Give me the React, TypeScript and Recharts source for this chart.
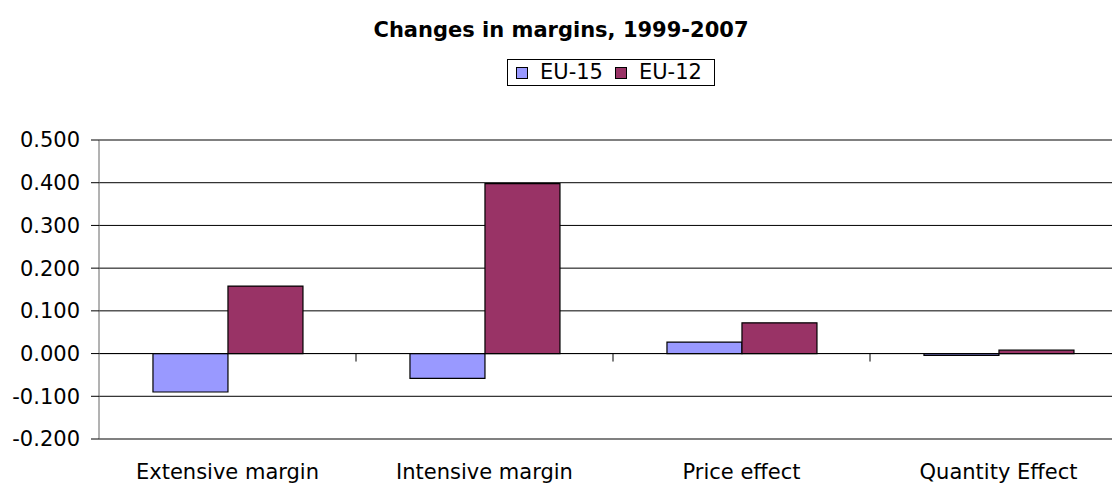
import React from 'react';
import { BarChart, Bar, XAxis, YAxis, CartesianGrid, ReferenceLine, Legend } from 'recharts';

const categories = ['Extensive margin', 'Intensive margin', 'Price effect', 'Quantity Effect'];
const seriesNames = ['EU-15', 'EU-12'];
const eu15 = [-0.09, -0.058, 0.027, -0.004];
const eu12 = [0.158, 0.398, 0.072, 0.008];
const yTicks = [-0.2, -0.1, 0, 0.1, 0.2, 0.3, 0.4, 0.5];
const separators = [1, 2, 3];
const title = 'Changes in margins, 1999-2007';

const data = categories.map((c, i) => ({ name: c, pos: i + 0.5, 'EU-15': eu15[i], 'EU-12': eu12[i] }));

const FONT = 'DejaVu Sans';

const renderLegend = (props: any) => {
  const payload = [...(props.payload || [])].sort(
    (a: any, b: any) => seriesNames.indexOf(a.value) - seriesNames.indexOf(b.value)
  );
  return (
    <div
      style={{
        display: 'inline-flex',
        alignItems: 'center',
        border: '1px solid #000',
        padding: '1px 12px 1px 8px',
        fontFamily: FONT,
        fontSize: 21,
        lineHeight: '23px',
        color: '#000',
        background: '#fff',
      }}
    >
      {payload.map((p: any, i: number) => (
        <span key={i} style={{ display: 'inline-flex', alignItems: 'center', marginLeft: i === 0 ? 0 : 12 }}>
          <span
            style={{
              display: 'inline-block',
              width: 10,
              height: 10,
              border: '1px solid #000',
              background: p.color,
              marginRight: 12,
            }}
          />
          {p.value}
        </span>
      ))}
    </div>
  );
};

export default function App() {
  return (
    <div style={{ position: 'absolute', left: 0, top: 0, width: 1112, height: 483, overflow: 'hidden', background: '#fff' }}>
      <div
        style={{
          position: 'absolute',
          left: 311,
          top: 20,
          width: 500,
          textAlign: 'center',
          fontFamily: FONT,
          fontWeight: 'bold',
          fontSize: 21,
          lineHeight: '21px',
          color: '#000',
          zIndex: 2,
        }}
      >
        {title}
      </div>
      <BarChart
        width={1140}
        height={483}
        data={data}
        margin={{ top: 140, right: 13, left: 0, bottom: 0 }}
        barCategoryGap="21%"
        barGap={0}
      >
        <CartesianGrid horizontal={true} vertical={false} stroke="#000" strokeOpacity={1} />
        <XAxis
          dataKey="name"
          height={44}
          axisLine={false}
          tickLine={false}
          tickSize={0}
          tickMargin={25}
          interval={0}
          tick={{ fontSize: 21, fill: '#000', fontFamily: FONT }}
        />
        <XAxis xAxisId="sep" dataKey="pos" type="number" domain={[0, 4]} allowDataOverflow={true} hide />
        <YAxis
          width={99}
          domain={[-0.2, 0.5]}
          ticks={yTicks}
          interval={0}
          tickSize={8}
          tickMargin={11}
          tickFormatter={(v: number) => v.toFixed(3)}
          axisLine={{ stroke: '#666' }}
          tickLine={{ stroke: '#000' }}
          tick={{ fontSize: 21, fill: '#000', fontFamily: FONT }}
        />
        <ReferenceLine y={0.5} stroke="#808080" strokeWidth={1.5} />
        <ReferenceLine y={-0.2} stroke="#808080" strokeWidth={1.5} />
        <Legend
          layout="horizontal"
          verticalAlign="middle"
          align="center"
          content={renderLegend}
          wrapperStyle={{ position: 'absolute', top: 59, left: 507, width: 'auto', height: 'auto' }}
        />
        <Bar dataKey="EU-15" fill="#9999FF" stroke="#000" strokeWidth={1.2} isAnimationActive={false} />
        <Bar dataKey="EU-12" fill="#993366" stroke="#000" strokeWidth={1.2} isAnimationActive={false} />
        <ReferenceLine y={0} stroke="#000" strokeWidth={1} />
        {separators.map((s) => (
          <ReferenceLine
            key={s}
            xAxisId="sep"
            segment={[
              { x: s, y: 0 },
              { x: s, y: -0.0187 },
            ]}
            stroke="#000"
            strokeWidth={1}
          />
        ))}
      </BarChart>
    </div>
  );
}
